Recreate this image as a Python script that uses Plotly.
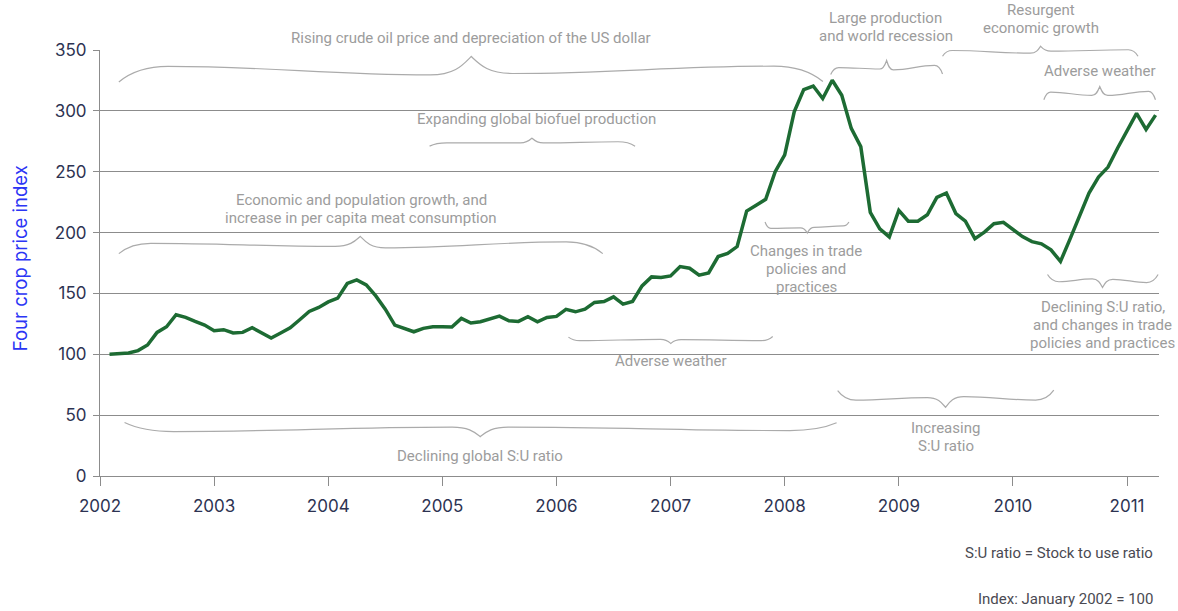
import plotly.graph_objects as go

# Four crop price index, monthly, January 2002 - March 2011 (January 2002 = 100)
START_YEAR = 2002
index_values = [
    100.0, 100.8, 101.0, 103.0, 107.6, 118.0, 122.6, 132.5, 130.3, 127.0, 124.0, 119.4,
    120.2, 117.5, 118.0, 121.8, 118.0, 113.4, 117.5, 121.8, 128.4, 135.2, 138.5, 143.0,
    146.1, 158.2, 161.1, 157.0, 148.0, 137.1, 124.0, 121.6, 118.5, 121.3, 122.6, 122.6,
    122.4, 129.5, 125.7, 126.7, 129.2, 131.4, 127.5, 127.0, 130.8, 126.7, 130.3, 131.1,
    136.9, 134.9, 137.1, 142.6, 143.4, 147.2, 141.2, 143.4, 156.2, 163.6, 163.1, 164.4,
    172.1, 170.7, 165.0, 166.9, 180.3, 182.8, 188.5, 217.7, 222.4, 227.3, 250.0, 263.8,
    299.2, 317.5, 320.4, 310.1, 325.1, 312.8, 285.6, 270.6, 216.6, 203.0, 196.4, 218.2,
    209.3, 209.3, 214.6, 228.9, 232.5, 215.6, 209.3, 195.0, 200.4, 207.3, 208.4, 202.7,
    196.7, 192.6, 190.7, 185.8, 176.3, 194.6, 213.0, 232.5, 245.6, 253.8, 269.3, 284.2,
    297.9, 284.8, 296.5,
]
year_ticks = list(range(2002, 2012))
tick_labels = [str(y) for y in year_ticks]
y_ticks = [0, 50, 100, 150, 200, 250, 300, 350]

# each monthly value sits at the end of its month
month_x = [START_YEAR + (i + 1) / 12 for i in range(len(index_values))]

X_RANGE = (2002.0, 2011.28)
Y_RANGE = (0.0, 350.0)
PLOT_HEIGHT_PX = 426.5
LINE_STEP = 18.0 / PLOT_HEIGHT_PX  # spacing between lines of a note, in paper units

GRID = "#8c8c8c"
NOTE = "#9c9c9c"
BRACE = "#ababab"
TICK_TEXT = "#2d3352"


def fx(year):
    return (year - X_RANGE[0]) / (X_RANGE[1] - X_RANGE[0])


def fy(value):
    return (value - Y_RANGE[0]) / (Y_RANGE[1] - Y_RANGE[0])


def brace_path(x0, x1, xt, ye, yb, yt, hook, tipw, hook1=None):
    """Curly brace from x0 to x1 (years) with its point at xt.
    ye: height of the two ends, yb: body height (scalar or 4 values
    outer-left, inner-left, inner-right, outer-right), yt: point height."""
    if not isinstance(yb, (tuple, list)):
        yb = (yb,) * 4
    if not isinstance(ye, (tuple, list)):
        ye = (ye, ye)
    hook1 = hook if hook1 is None else hook1
    p0 = (x0, ye[0])
    o0 = (x0 + hook, yb[0])
    i0 = (xt - tipw, yb[1])
    t = (xt, yt)
    i1 = (xt + tipw, yb[2])
    o1 = (x1 - hook1, yb[3])
    p1 = (x1, ye[1])

    segs = [
        ((p0[0] + 0.25 * hook, p0[1] + 0.65 * (o0[1] - p0[1])), (p0[0] + 0.55 * hook, o0[1]), o0),
        ((o0[0] + 0.4 * (i0[0] - o0[0]), o0[1]), (i0[0] - 0.4 * (i0[0] - o0[0]), i0[1]), i0),
        ((i0[0] + 0.6 * tipw, i0[1]), (t[0] - 0.2 * tipw, i0[1] + 0.55 * (t[1] - i0[1])), t),
        ((t[0] + 0.2 * tipw, i1[1] + 0.55 * (t[1] - i1[1])), (i1[0] - 0.6 * tipw, i1[1]), i1),
        ((i1[0] + 0.4 * (o1[0] - i1[0]), i1[1]), (o1[0] - 0.4 * (o1[0] - i1[0]), o1[1]), o1),
        ((p1[0] - 0.55 * hook1, o1[1]), (p1[0] - 0.25 * hook1, p1[1] + 0.65 * (o1[1] - p1[1])), p1),
    ]

    def pt(p):
        return f"{fx(p[0]):.5f},{fy(p[1]):.5f}"

    d = "M " + pt(p0)
    for c1, c2, end in segs:
        d += " C " + pt(c1) + " " + pt(c2) + " " + pt(end)
    return d


# drivers of the price movement: brace geometry and label placement
braces = [
    dict(x0=2002.165, x1=2008.335, xt=2005.253, ye=(323.7, 324.1),
         yb=(336.5, 329.5, 330.7, 336.7), yt=344.7, hook=0.43, tipw=0.36),
    dict(x0=2004.888, x1=2006.689, xt=2005.785, ye=271.0,
         yb=(273.7, 273.7, 273.7, 274.6), yt=277.6, hook=0.15, tipw=0.10),
    dict(x0=2002.165, x1=2006.406, xt=2004.281, ye=182.7,
         yb=(191.2, 188.7, 187.5, 192.3), yt=196.9, hook=0.28, tipw=0.22, hook1=0.32),
    dict(x0=2008.403, x1=2009.383, xt=2008.893, ye=(329.9, 330.3),
         yb=(335.6, 334.4, 333.6, 337.3), yt=341.4, hook=0.07, tipw=0.06),
    dict(x0=2009.383, x1=2011.096, xt=2010.242, ye=344.9,
         yb=(349.6, 347.4, 349.0, 350.2), yt=353.1, hook=0.085, tipw=0.09),
    dict(x0=2010.271, x1=2011.249, xt=2010.761, ye=309.1,
         yb=(315.4, 312.7, 312.7, 316.0), yt=320.0, hook=0.06, tipw=0.07),
    dict(x0=2007.828, x1=2008.563, xt=2008.198, ye=208.7,
         yb=(203.5, 203.9, 204.3, 205.5), yt=199.7, hook=0.05, tipw=0.06),
    dict(x0=2006.105, x1=2007.895, xt=2007.002, ye=(114.1, 114.6),
         yb=(111.2, 112.3, 112.0, 111.2), yt=108.9, hook=0.10, tipw=0.09),
    dict(x0=2002.215, x1=2008.455, xt=2005.332, ye=(43.9, 43.7),
         yb=(36.5, 40.2, 40.2, 37.3), yt=32.3, hook=0.43, tipw=0.245, hook1=0.41),
    dict(x0=2008.464, x1=2010.358, xt=2009.410, ye=(70.2, 70.6),
         yb=(62.4, 64.4, 65.2, 62.4), yt=56.4, hook=0.16, tipw=0.16),
    dict(x0=2010.303, x1=2011.272, xt=2010.785, ye=165.5,
         yb=(159.6, 161.9, 161.6, 158.9), yt=154.9, hook=0.10, tipw=0.09),
]

# (lines of text, centre year, centre index value)
notes = [
    (["Rising crude oil price and depreciation of the US dollar"], 2005.253, 360.2),
    (["Expanding global biofuel production"], 2005.822, 293.5),
    (["Economic and population growth, and", "increase in per capita meat consumption"], 2004.29, 219.5),
    (["Large production", "and world recession"], 2008.887, 368.8),
    (["Resurgent", "economic growth"], 2010.242, 375.6),
    (["Adverse weather"], 2010.761, 332.6),
    (["Changes in trade", "policies and", "practices"], 2008.187, 169.9),
    (["Adverse weather"], 2007.002, 94.4),
    (["Declining global S:U ratio"], 2005.332, 16.7),
    (["Increasing", "S:U ratio"], 2009.41, 32.0),
    (["Declining S:U ratio,", "and changes in trade", "policies and practices"], 2010.787, 124.2),
]

fig = go.Figure()
fig.add_trace(go.Scatter(
    x=month_x, y=index_values, mode="lines",
    line=dict(color="#1d6b33", width=3.5),
    hoverinfo="skip", showlegend=False,
))

shapes = [
    dict(type="path", xref="paper", yref="paper", path=brace_path(**b),
         line=dict(color=BRACE, width=1.2), layer="above")
    for b in braces
]

annotations = []
for lines, xv, yv in notes:
    n = len(lines)
    for k, line in enumerate(lines):
        offset = ((n - 1) / 2 - k) * LINE_STEP
        annotations.append(dict(
            text=line, x=fx(xv), y=fy(yv) + offset, xref="paper", yref="paper",
            xanchor="center", yanchor="middle", showarrow=False,
            font=dict(family="Roboto", size=15, color=NOTE)))

annotations += [
    dict(text="Four crop price index", x=-0.076, y=0.51, xref="paper", yref="paper",
         textangle=-90, xanchor="center", yanchor="middle", showarrow=False,
         font=dict(family="Inter", size=18.5, color="#2b35f5")),
    dict(text="S:U ratio = Stock to use ratio", x=0.996, y=-0.18, xref="paper", yref="paper",
         xanchor="right", yanchor="middle", showarrow=False,
         font=dict(family="Roboto", size=15, color="#4a4a52")),
    dict(text="Index: January 2002 = 100", x=0.996, y=-0.288, xref="paper", yref="paper",
         xanchor="right", yanchor="middle", showarrow=False,
         font=dict(family="Roboto", size=15, color="#4a4a52")),
]

fig.update_layout(
    width=1178, height=611,
    margin=dict(l=99.5, r=18.7, t=49.5, b=135, autoexpand=False),
    paper_bgcolor="white", plot_bgcolor="white",
    shapes=shapes, annotations=annotations,
    xaxis=dict(
        range=list(X_RANGE), tickmode="array", tickvals=year_ticks, ticktext=tick_labels,
        showgrid=False, zeroline=False, showline=True, linecolor=GRID, linewidth=1,
        ticks="outside", ticklen=9, tickcolor=GRID, tickwidth=1, ticklabelstandoff=6,
        tickfont=dict(family="Inter", size=17, color=TICK_TEXT),
    ),
    yaxis=dict(
        range=list(Y_RANGE), tickmode="array", tickvals=y_ticks,
        showgrid=True, gridcolor=GRID, gridwidth=1, zeroline=False,
        showline=True, linecolor=GRID, linewidth=1,
        ticks="outside", ticklen=6, tickcolor=GRID, tickwidth=1, ticklabelstandoff=3,
        tickfont=dict(family="Inter", size=17, color=TICK_TEXT),
    ),
)

fig.write_html("out.html")
